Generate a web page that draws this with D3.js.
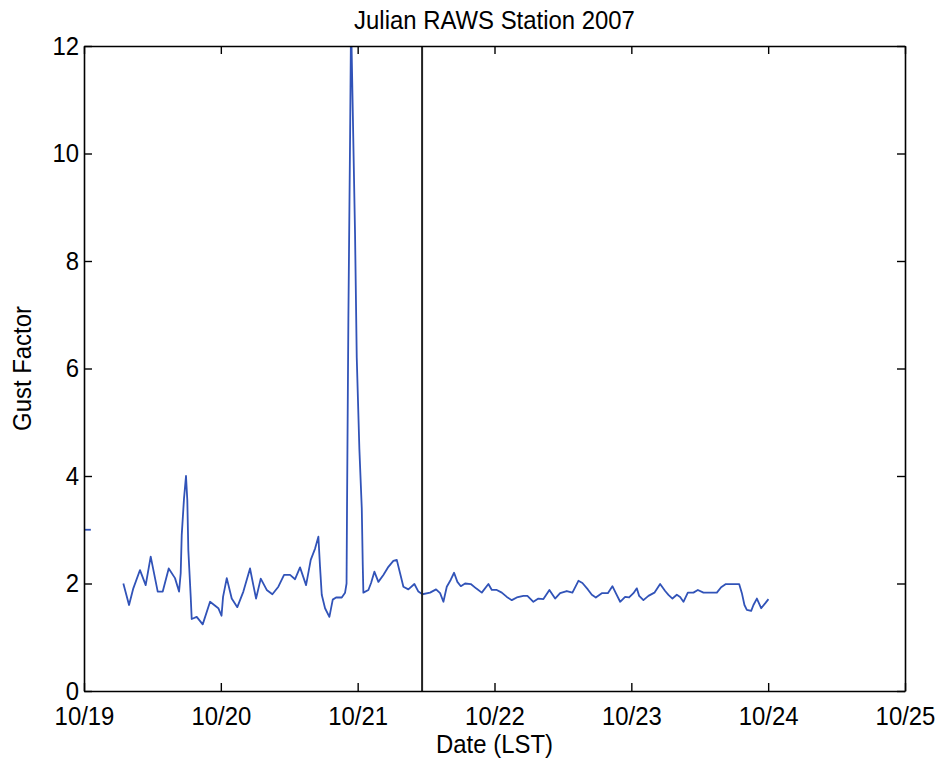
<!DOCTYPE html>
<html>
<head>
<meta charset="utf-8">
<script src="https://cdn.jsdelivr.net/npm/d3@7"></script>
<style>
  html, body { margin: 0; padding: 0; background: #fff; }
  svg { display: block; }
  text { font-family: "Liberation Sans", Arial, sans-serif; fill: #000; }
</style>
</head>
<body>
<svg id="chart" width="937" height="763"></svg>
<script>
// ---- data ----
const title = "Julian RAWS Station 2007";
const xLabel = "Date (LST)";
const yLabel = "Gust Factor";
const dayTickLabels = ["10/19", "10/20", "10/21", "10/22", "10/23", "10/24", "10/25"];
const yTicks = [0, 2, 4, 6, 8, 10, 12];
// hours since 10/19 00:00 LST
const hours = [6.9, 7.9, 8.65, 9.82, 10.82, 11.7, 12.93, 13.81, 14.86, 15.96, 16.67, 16.96, 17.14, 17.54, 17.89,
  18.12, 18.3, 18.72, 18.89, 19.77, 20.82, 22.11, 23.56, 24.12, 24.39, 25.04, 25.91, 26.89, 27.95, 29.12,
  29.7, 30.18, 31.0, 32.05, 33.04, 34.09, 35.09, 36.14, 37.02, 37.89, 38.95, 39.77, 40.53, 41.11, 41.4,
  41.7, 42.28, 43.04, 43.63, 44.21, 45.21, 45.79, 46.05, 46.14, 46.37, 46.67, 46.84, 47.14, 47.54, 47.84,
  48.3, 48.72, 48.89, 49.0, 49.88, 50.35, 50.93, 51.63, 52.51, 53.39, 54.26, 54.86, 55.44, 56.02, 56.89,
  57.95, 58.65, 59.35, 60.7, 61.75, 62.46, 63.04, 63.63, 64.33, 64.91, 65.49, 66.09, 66.84, 67.84, 68.77,
  69.77, 70.93, 71.53, 72.4, 73.28, 74.16, 75.04, 75.91, 77.07, 77.77, 78.82, 79.7, 80.58, 81.63, 82.63,
  83.51, 84.68, 85.67, 86.72, 87.42, 88.37, 89.07, 89.77, 90.82, 91.88, 92.68, 93.28, 94.04, 94.91, 95.61,
  96.37, 96.96, 97.37, 98.12, 99.0, 100.05, 101.05, 101.93, 102.51, 103.21, 103.98, 104.56, 105.14, 105.91,
  106.89, 107.67, 108.65, 111.0, 111.75, 112.58, 114.91, 115.39, 115.84, 116.26, 117.02, 117.42, 118.02,
  118.77, 119.47, 120.05];
const gust = [2.0, 1.6, 1.91, 2.25, 1.97, 2.5, 1.85, 1.85, 2.28, 2.1, 1.85, 2.19, 2.9, 3.58, 4.0,
  3.55, 2.62, 1.75, 1.34, 1.38, 1.24, 1.66, 1.54, 1.4, 1.75, 2.1, 1.72, 1.56, 1.85, 2.28,
  1.97, 1.72, 2.09, 1.88, 1.8, 1.94, 2.16, 2.16, 2.08, 2.3, 1.97, 2.44, 2.65, 2.87, 2.31,
  1.79, 1.54, 1.38, 1.7, 1.74, 1.74, 1.83, 2.0, 3.53, 6.92, 10.3, 12.5, 10.8, 8.5, 6.2,
  4.5, 3.4, 2.36, 1.83, 1.88, 2.01, 2.22, 2.03, 2.16, 2.31, 2.42, 2.44, 2.19, 1.94, 1.89,
  1.99, 1.85, 1.8, 1.83, 1.89, 1.82, 1.66, 1.94, 2.07, 2.2, 2.03, 1.95, 2.0, 1.99, 1.91,
  1.83, 1.99, 1.88, 1.88, 1.83, 1.75, 1.69, 1.74, 1.77, 1.77, 1.66, 1.72, 1.71, 1.88, 1.72,
  1.82, 1.86, 1.83, 2.05, 2.01, 1.89, 1.79, 1.74, 1.82, 1.82, 1.95, 1.82, 1.66, 1.75, 1.74,
  1.82, 1.91, 1.77, 1.69, 1.77, 1.83, 1.99, 1.86, 1.79, 1.72, 1.79, 1.75, 1.66, 1.83,
  1.83, 1.88, 1.83, 1.83, 1.93, 1.99, 1.99, 1.82, 1.6, 1.51, 1.49, 1.6, 1.72,
  1.54, 1.63, 1.71];
// short stray segment at the left edge
const strayHours = [0, 1.2];
const strayGust = [3.0, 3.0];
// vertical marker (hours since 10/19 00:00)
const markerHour = 59.3;

// ---- layout ----
const svg = d3.select("#chart");
const L = 84, R = 905, T = 46, B = 691;
const x = d3.scaleLinear().domain([0, 144]).range([L, R]);
const y = d3.scaleLinear().domain([0, 12]).range([B, T]);
const xTickVals = dayTickLabels.map((d, i) => i * 24);
const fs = 26;      // font size
const sx = 0.92;    // horizontal condensing of text
const tickLen = 8;

svg.append("defs").append("clipPath").attr("id", "clip")
  .append("rect").attr("x", L).attr("y", T).attr("width", R - L).attr("height", B - T);

const lineColor = "#3153b8";
const line = d3.line().x(d => x(d[0])).y(d => y(d[1]));

const plot = svg.append("g").attr("clip-path", "url(#clip)");
plot.append("path")
  .datum(strayHours.map((h, i) => [h, strayGust[i]]))
  .attr("d", line).attr("fill", "none").attr("stroke", lineColor).attr("stroke-width", 1.8);
plot.append("path")
  .datum(hours.map((h, i) => [h, gust[i]]))
  .attr("d", line).attr("fill", "none").attr("stroke", lineColor)
  .attr("stroke-width", 1.8).attr("stroke-linejoin", "round");

// vertical marker line
svg.append("line")
  .attr("x1", x(markerHour)).attr("x2", x(markerHour))
  .attr("y1", y(0)).attr("y2", y(12))
  .attr("stroke", "#222").attr("stroke-width", 2);

// axes (ticks pointing inward, on all four sides)
const padB = 16, padL = 5;
const axB = svg.append("g").attr("transform", `translate(0,${B})`)
  .call(d3.axisBottom(x).tickValues(xTickVals).tickFormat((d, i) => dayTickLabels[i])
    .tickSizeInner(-tickLen).tickSizeOuter(0).tickPadding(padB));
const axT = svg.append("g").attr("transform", `translate(0,${T})`)
  .call(d3.axisTop(x).tickValues(xTickVals).tickFormat("").tickSizeInner(-tickLen).tickSizeOuter(0));
const axL = svg.append("g").attr("transform", `translate(${L},0)`)
  .call(d3.axisLeft(y).tickValues(yTicks).tickFormat(d3.format("d"))
    .tickSizeInner(-tickLen).tickSizeOuter(0).tickPadding(padL));
const axR = svg.append("g").attr("transform", `translate(${R},0)`)
  .call(d3.axisRight(y).tickValues(yTicks).tickFormat("").tickSizeInner(-tickLen).tickSizeOuter(0));

[axB, axT, axL, axR].forEach(a => {
  a.selectAll("path.domain").attr("stroke", "#000").attr("stroke-width", 1.6);
  a.selectAll(".tick line").attr("stroke", "#000").attr("stroke-width", 1.4);
  a.selectAll("text").style("font-size", fs + "px")
    .style("font-family", '"Liberation Sans", Arial, sans-serif');
});
axB.selectAll("text").attr("dy", "0.71em").attr("x", 0).attr("transform", `scale(${sx},1)`);
axL.selectAll("text").attr("x", -padL / sx).attr("transform", `scale(${sx},1)`);

// title and labels
svg.append("text").attr("transform", `translate(${(L + R) / 2},29) scale(${sx},1)`)
  .attr("text-anchor", "middle").style("font-size", fs + "px").text(title);
svg.append("text").attr("transform", `translate(${(L + R) / 2},753) scale(${sx},1)`)
  .attr("text-anchor", "middle").style("font-size", fs + "px").text(xLabel);
svg.append("text").attr("transform", `translate(31,${(T + B) / 2}) rotate(-90) scale(${sx},1)`)
  .attr("text-anchor", "middle").style("font-size", fs + "px").text(yLabel);
</script>
</body>
</html>
